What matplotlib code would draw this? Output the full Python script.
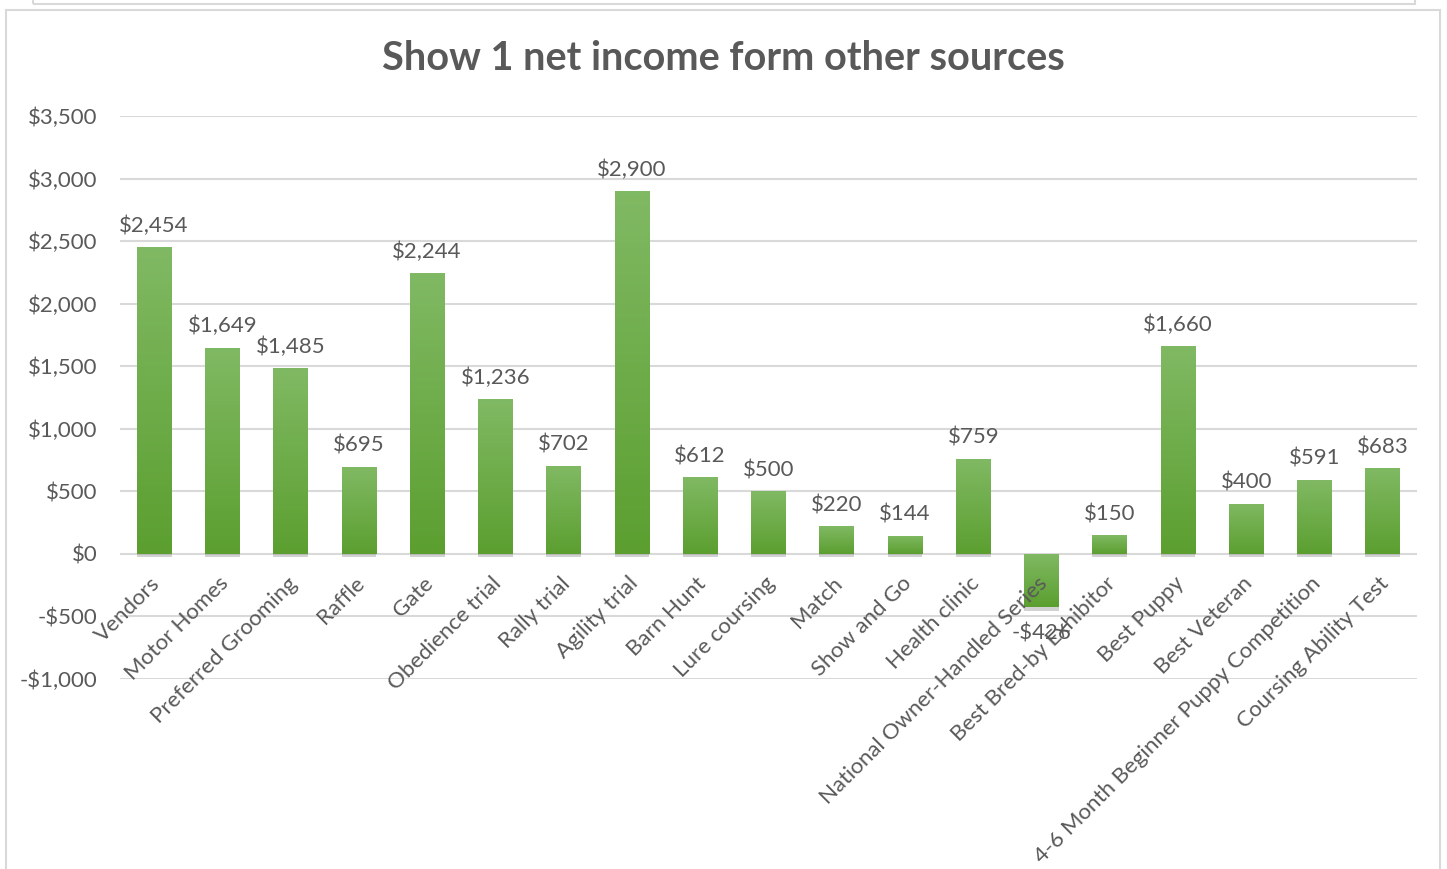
import matplotlib.pyplot as plt
import matplotlib.patheffects as pe
import numpy as np
from matplotlib.colors import LinearSegmentedColormap
from matplotlib.patches import Rectangle
from matplotlib.ticker import FuncFormatter

plt.rcParams['font.family'] = ['Lato', 'DejaVu Sans']

categories = ['Vendors', 'Motor Homes', 'Preferred Grooming', 'Raffle', 'Gate',
              'Obedience trial', 'Rally trial', 'Agility trial', 'Barn Hunt',
              'Lure coursing', 'Match', 'Show and Go', 'Health clinic',
              'National Owner-Handled Series', 'Best Bred-by Exhibitor',
              'Best Puppy', 'Best Veteran', '4-6 Month Beginner Puppy Competition',
              'Coursing Ability Test']
values = [2454, 1649, 1485, 695, 2244, 1236, 702, 2900, 612, 500, 220, 144,
          759, -426, 150, 1660, 400, 591, 683]

title = 'Show 1 net income form other sources'
text_col = '#595959'
grid_col = '#d9d9d9'


def money(v, pos=None):
    if v < 0:
        return '-${:,.0f}'.format(-v)
    return '${:,.0f}'.format(v)


W, H = 1447, 869
fig = plt.figure(figsize=(W / 100, H / 100), dpi=100)

# chart frames (upper neighbour box and this chart's box)
fig.patches.append(Rectangle((33 / W, 1 - 4 / H), (1415 - 33) / W, 0.1,
                             transform=fig.transFigure, fill=False,
                             edgecolor=grid_col, lw=1.5))
fig.patches.append(Rectangle((6 / W, -0.1), (1440 - 6) / W, 1.1 - 10 / H,
                             transform=fig.transFigure, fill=False,
                             edgecolor=grid_col, lw=1.5))

ax = fig.add_axes([120 / W, 1 - 679 / H, (1417 - 120) / W, (679 - 116) / H])

x = np.arange(len(categories))
bars = ax.bar(x, values, width=0.51, color='#6cad45', zorder=3,
              path_effects=[pe.SimplePatchShadow(offset=(0, -2.5), shadow_rgbFace='#7f7f7f',
                                                 alpha=0.35), pe.Normal()])

cmap = LinearSegmentedColormap.from_list('g', ['#5c9f30', '#80b963'])
grad = np.linspace(0, 1, 100).reshape(-1, 1)
for b in bars:
    x0, y0 = b.get_x(), b.get_y()
    w, h = b.get_width(), b.get_height()
    lo, hi = min(y0, y0 + h), max(y0, y0 + h)
    im = ax.imshow(grad, cmap=cmap, aspect='auto', origin='lower',
                   extent=(x0, x0 + w, lo, hi), zorder=4)
    im.set_clip_path(b)

for xi, v in zip(x, values):
    if v >= 0:
        ax.annotate(money(v), (xi, v), xytext=(0, 8), textcoords='offset points',
                    ha='center', va='bottom', fontsize=16, color=text_col, zorder=6)
    else:
        ax.annotate(money(v), (xi, v), xytext=(0, -12), textcoords='offset points',
                    ha='center', va='top', fontsize=16, color=text_col, zorder=6)

ax.set_xlim(-0.5, len(categories) - 0.5)
ax.set_ylim(-1000, 3500)
ax.set_yticks(np.arange(-1000, 3501, 500))
ax.yaxis.set_major_formatter(FuncFormatter(money))
ax.grid(axis='y', color=grid_col, lw=1.5, zorder=0)
ax.set_axisbelow(True)
for s in ax.spines.values():
    s.set_visible(False)
ax.tick_params(axis='y', length=0, labelsize=16, labelcolor=text_col, pad=16)
ax.tick_params(axis='x', length=0)
ax.set_xticks(x)
ax.set_xticklabels([])

# category labels rotated along the zero line
for xi, c in zip(x, categories):
    ax.annotate(c, (xi, 0), xytext=(-3, -14), textcoords='offset points',
                rotation=45, rotation_mode='anchor', ha='right', va='top',
                fontsize=16, color=text_col, zorder=5, annotation_clip=False)

fig.text(0.5, 1 - 59 / H, title, ha='center', va='center', fontsize=28.5,
         fontweight='bold', color=text_col)

fig.savefig('out.png', dpi=100)
